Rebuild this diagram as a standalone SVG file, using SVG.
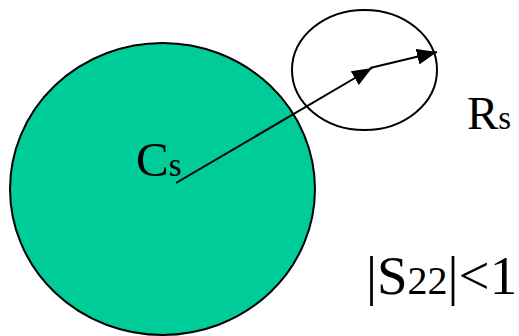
<svg xmlns="http://www.w3.org/2000/svg" width="519" height="336" viewBox="0 0 519 336">
<style>
.c{stroke:#000;stroke-width:2}
</style>
<defs>
<marker id="ah2" markerWidth="20" markerHeight="16" refX="20" refY="8" orient="auto" markerUnits="userSpaceOnUse" viewBox="0 0 20 16">
<path d="M0,0 L20,8 L0,16 z" fill="#000"/>
</marker>
</defs>
<g id="large-circle">
<ellipse cx="162.5" cy="189" rx="152.5" ry="146" fill="#00CC99" class="c"/>
<text font-family="Liberation Serif" fill="#000" x="136" y="176" font-size="49">C<tspan font-size="33">s</tspan></text>
</g>
<g id="small-circle">
<ellipse cx="364.5" cy="70" rx="72.5" ry="60" fill="none" class="c"/>
</g>
<g id="labels" font-family="Liberation Serif" fill="#000">
<text x="467" y="129" font-size="47">R<tspan font-size="33">s</tspan></text>
<text x="366" y="294" font-size="55">|S<tspan font-size="40">22</tspan>|&lt;1</text>
</g>
<g id="connectors" stroke="#000" stroke-width="2" fill="none">
<line x1="176" y1="183" x2="372" y2="68" marker-end="url(#ah2)"/>
<line x1="370" y1="68" x2="437" y2="52" marker-end="url(#ah2)"/>
</g>
</svg>
